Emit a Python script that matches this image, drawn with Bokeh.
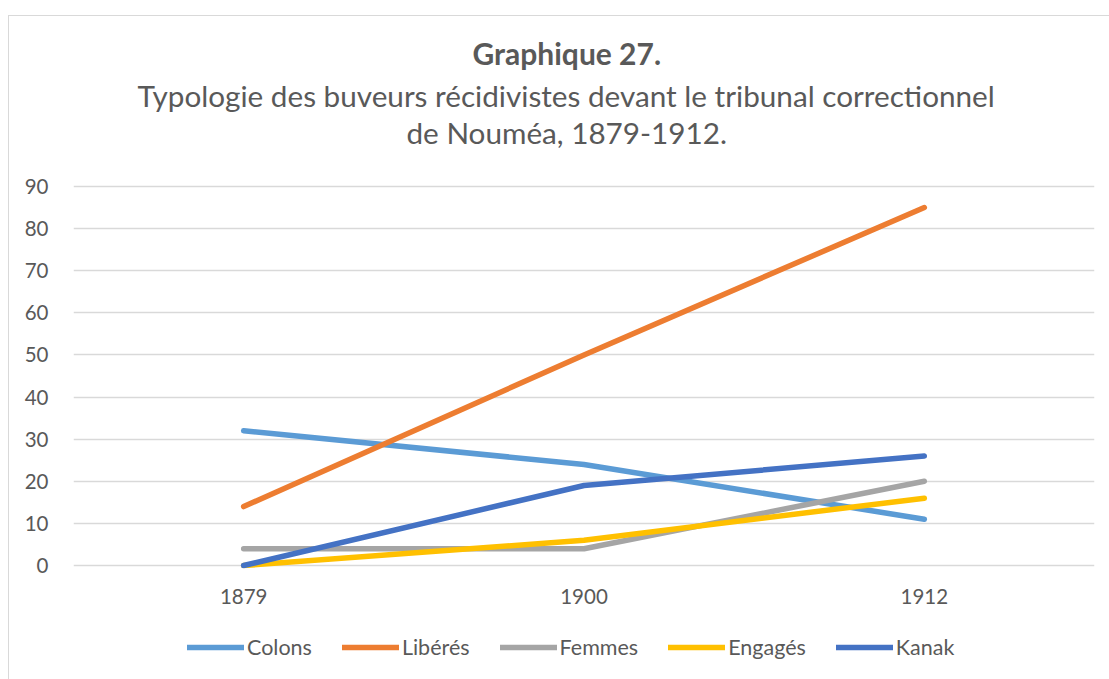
from bokeh.plotting import figure
from bokeh.layouts import column
from bokeh.models import (ColumnDataSource, Range1d, FixedTicker, Title,
                          Legend, LegendItem)
from bokeh.embed import file_html
from bokeh.resources import INLINE

# Data
years = ["1879", "1900", "1912"]
colons = [32, 24, 11]
liberes = [14, 50, 85]
femmes = [4, 4, 20]
engages = [0, 6, 16]
kanak = [0, 19, 26]

series_names = ["Colons", "Libérés", "Femmes", "Engagés", "Kanak"]
series_values = [colons, liberes, femmes, engages, kanak]
series_colors = ["#5B9BD5", "#ED7D31", "#A5A5A5", "#FFC000", "#4472C4"]

y_ticks = [0, 10, 20, 30, 40, 50, 60, 70, 80, 90]

FONT = "Lato"
TEXT = "#595959"
GRID = "#D9D9D9"
LINE_W = 5.5
NAN = float("nan")

# ---- main chart ----
p = figure(
    x_range=years,
    y_range=Range1d(-0.7, 90.7),
    frame_width=1021, frame_height=385,
    output_backend="svg",
    toolbar_location=None,
    min_border_left=64, min_border_right=15,
    min_border_top=0, min_border_bottom=45,
)
p.outline_line_color = None
p.background_fill_color = "white"
p.border_fill_color = "white"

p.yaxis.ticker = FixedTicker(ticks=y_ticks)
for ax in (p.xaxis[0], p.yaxis[0]):
    ax.axis_line_color = None
    ax.major_tick_line_color = None
    ax.minor_tick_line_color = None
    ax.major_label_text_font = FONT
    ax.major_label_text_font_size = "20.5px"
    ax.major_label_text_color = TEXT
p.yaxis.major_label_standoff = 19
p.xaxis.major_label_standoff = 14

p.xgrid.grid_line_color = None
p.ygrid.grid_line_color = GRID
p.ygrid.grid_line_width = 1.3

for name, vals, color in zip(series_names, series_values, series_colors):
    src = ColumnDataSource(dict(x=years, y=vals))
    p.line("x", "y", source=src, line_color=color, line_width=LINE_W,
           line_cap="round", line_join="round")

# Title block, stacked outward from the frame
def spacer(gap):
    return Title(text=" ", text_font_size="1px", standoff=gap)

title_kw = dict(align="left", text_font=FONT, text_color=TEXT)
p.add_layout(spacer(30), "above")
p.add_layout(Title(text="de Nouméa, 1879-1912.", text_font_size="29.7px",
                   text_font_style="normal", standoff=2, offset=333,
                   **title_kw), "above")
p.add_layout(Title(text="Typologie des buveurs récidivistes devant le tribunal correctionnel",
                   text_font_size="29.7px", text_font_style="normal",
                   standoff=-2.6, offset=64, **title_kw), "above")
p.add_layout(Title(text="Graphique 27.", text_font_size="30px",
                   text_font_style="bold", standoff=13.4, offset=399,
                   **title_kw), "above")
p.add_layout(spacer(6.6), "above")

# ---- legend strip below the chart ----
leg = figure(
    width=1100, height=66,
    x_range=Range1d(0, 1), y_range=Range1d(0, 1),
    output_backend="svg",
    toolbar_location=None,
    min_border=0,
)
leg.axis.visible = False
leg.grid.visible = False
leg.outline_line_color = None
leg.background_fill_color = "white"
leg.border_fill_color = "white"

items = []
for name, color in zip(series_names, series_colors):
    # legend key only: a single undefined point, nothing is plotted
    key = leg.line(x=[NAN], y=[NAN], line_color=color, line_width=LINE_W,
                   line_cap="round")
    items.append(LegendItem(label=name, renderers=[key]))

legend = Legend(
    items=items,
    orientation="horizontal",
    location=(114, 19),
    glyph_width=57, glyph_height=20,
    label_standoff=3, spacing=30, padding=0, margin=0,
    label_text_font=FONT, label_text_font_size="21.5px",
    label_text_color=TEXT,
    border_line_color=None, background_fill_alpha=0,
)
leg.add_layout(legend, "center")

layout = column(p, leg, spacing=0)
layout.styles = {
    "margin-left": "8px",
    "margin-top": "15px",
    "border-left": "1px solid #D9D9D9",
    "border-top": "1px solid #D9D9D9",
}

open("out.html", "w").write(file_html(layout, INLINE))
